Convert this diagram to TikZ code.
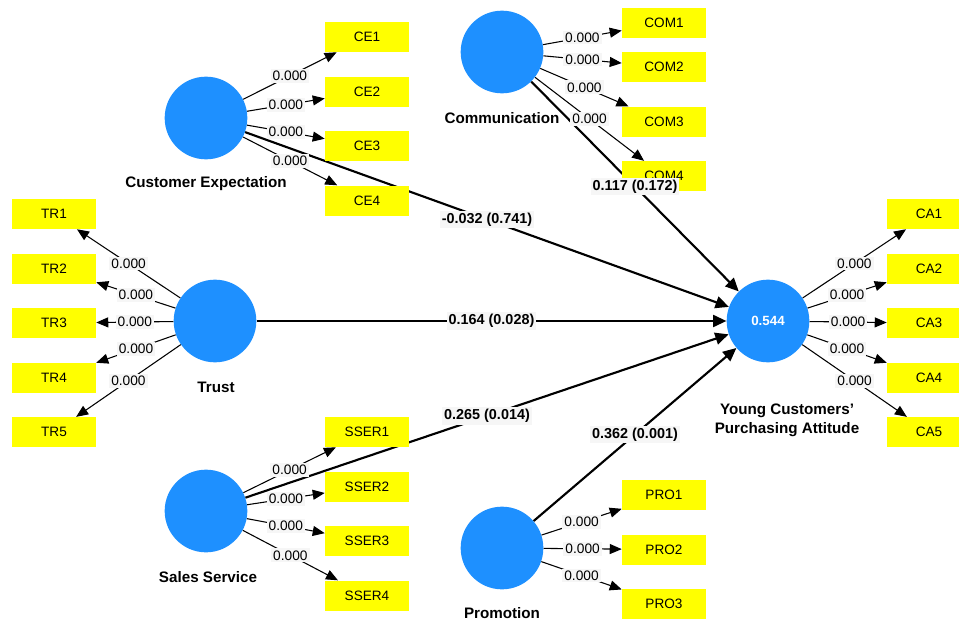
\documentclass[tikz,border=0pt]{standalone}
\usepackage{fontspec}
\setmainfont{Liberation Sans}
\usetikzlibrary{arrows.meta,positioning}

\definecolor{lvblue}{RGB}{30,144,255}
\definecolor{mvyellow}{RGB}{255,255,0}
\definecolor{coefbg}{RGB}{246,246,246}

\tikzset{
  latent/.style={circle,fill=lvblue,minimum size=62pt,inner sep=0pt,
    text=white,font=\bfseries\fontsize{10}{12}\selectfont},
  indicator/.style={rectangle,fill=mvyellow,minimum width=63pt,
    minimum height=22.5pt,inner sep=0pt,font=\fontsize{10.2}{12}\selectfont},
  lvname/.style={align=center,font=\bfseries\fontsize{11.4}{14}\selectfont},
  loading/.style={-{Triangle[length=9pt,width=7.5pt]},line width=0.8pt},
  pathcoef/.style={-{Triangle[length=10pt,width=9pt]},line width=1.6pt},
  loadval/.style={fill=coefbg,inner sep=1.5pt,font=\fontsize{10.3}{12}\selectfont},
  coefval/.style={fill=coefbg,inner sep=1.5pt,
    font=\bfseries\fontsize{10.8}{12}\selectfont},
}

\begin{document}
\begin{tikzpicture}[x=0.75pt,y=-0.75pt,node distance=18pt]
  \useasboundingbox (0,0) rectangle (959,620);

  \node[latent] (ce) at (206,118) {};
  \node[latent] (com) at (502,52) {};
  \node[latent] (tr) at (215,321) {};
  \node[latent] (ss) at (206,511) {};
  \node[latent] (pro) at (502,548) {};
  \node[latent] (ycpa) at (768,321) {0.544};

  \node[lvname] (celab) at (206,184) {Customer Expectation};
  \node[lvname] (comlab) at (502,118) {Communication};
  \node[lvname] (trlab) at (216,387) {Trust};
  \node[lvname] (sslab) at (208,577) {Sales Service};
  \node[lvname] (prolab) at (502,613) {Promotion};
  \node[lvname] (ycpalab) at (787,420) {Young Customers'\\Purchasing Attitude};

  \draw[pathcoef] (ce) -- (ycpa);
  \draw[pathcoef] (com) -- (ycpa);
  \draw[pathcoef] (tr) -- (ycpa);
  \draw[pathcoef] (ss) -- (ycpa);
  \draw[pathcoef] (pro) -- (ycpa);

  \node[indicator] (ce1) at (367,37) {CE1};
  \node[indicator, below=of ce1] (ce2) {CE2};
  \node[indicator, below=of ce2] (ce3) {CE3};
  \node[indicator, below=of ce3] (ce4) {CE4};

  \node[indicator] (com1) at (664,23) {COM1};
  \node[indicator] (com2) at (664,67) {COM2};
  \node[indicator, below=of com2] (com3) {COM3};
  \node[indicator, below=of com3] (com4) {COM4};

  \node[indicator] (tr1) at (54,214) {TR1};
  \node[indicator, below=of tr1] (tr2) {TR2};
  \node[indicator, below=of tr2] (tr3) {TR3};
  \node[indicator, below=of tr3] (tr4) {TR4};
  \node[indicator, below=of tr4] (tr5) {TR5};

  \node[indicator] (ca1) at (929,214) {CA1};
  \node[indicator, below=of ca1] (ca2) {CA2};
  \node[indicator, below=of ca2] (ca3) {CA3};
  \node[indicator, below=of ca3] (ca4) {CA4};
  \node[indicator, below=of ca4] (ca5) {CA5};

  \node[indicator] (sser1) at (367,432) {SSER1};
  \node[indicator, below=of sser1] (sser2) {SSER2};
  \node[indicator, below=of sser2] (sser3) {SSER3};
  \node[indicator, below=of sser3] (sser4) {SSER4};

  \node[indicator] (pro1) at (664,495) {PRO1};
  \node[indicator, below=of pro1] (pro2) {PRO2};
  \node[indicator, below=of pro2] (pro3) {PRO3};

  \draw[loading] (ce) -- node[loadval] {0.000} (ce1);
  \draw[loading] (ce) -- node[loadval] {0.000} (ce2);
  \draw[loading] (ce) -- node[loadval] {0.000} (ce3);
  \draw[loading] (ce) -- node[loadval] {0.000} (ce4);

  \draw[loading] (com) -- node[loadval] {0.000} (com1);
  \draw[loading] (com) -- node[loadval] {0.000} (com2);
  \draw[loading] (com) -- node[loadval] {0.000} (com3);
  \draw[loading] (com) -- node[loadval] {0.000} (com4);

  \draw[loading] (tr) -- node[loadval] {0.000} (tr1);
  \draw[loading] (tr) -- node[loadval] {0.000} (tr2);
  \draw[loading] (tr) -- node[loadval] {0.000} (tr3);
  \draw[loading] (tr) -- node[loadval] {0.000} (tr4);
  \draw[loading] (tr) -- node[loadval] {0.000} (tr5);

  \draw[loading] (ycpa) -- node[loadval] {0.000} (ca1);
  \draw[loading] (ycpa) -- node[loadval] {0.000} (ca2);
  \draw[loading] (ycpa) -- node[loadval] {0.000} (ca3);
  \draw[loading] (ycpa) -- node[loadval] {0.000} (ca4);
  \draw[loading] (ycpa) -- node[loadval] {0.000} (ca5);

  \draw[loading] (ss) -- node[loadval] {0.000} (sser1);
  \draw[loading] (ss) -- node[loadval] {0.000} (sser2);
  \draw[loading] (ss) -- node[loadval] {0.000} (sser3);
  \draw[loading] (ss) -- node[loadval] {0.000} (sser4);

  \draw[loading] (pro) -- node[loadval] {0.000} (pro1);
  \draw[loading] (pro) -- node[loadval] {0.000} (pro2);
  \draw[loading] (pro) -- node[loadval] {0.000} (pro3);

  \path (ce) -- node[coefval] {-0.032 (0.741)} (ycpa);
  \path (com) -- node[coefval] {0.117 (0.172)} (ycpa);
  \path (tr) -- node[coefval] {0.164 (0.028)} (ycpa);
  \path (ss) -- node[coefval] {0.265 (0.014)} (ycpa);
  \path (pro) -- node[coefval] {0.362 (0.001)} (ycpa);
\end{tikzpicture}
\end{document}
